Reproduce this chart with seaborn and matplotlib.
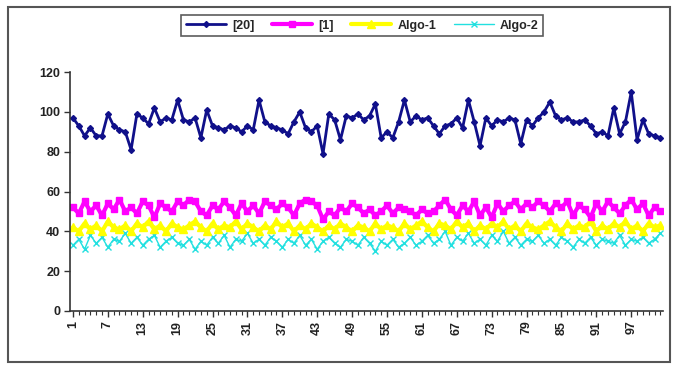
import numpy as np
import pandas as pd
import matplotlib
matplotlib.use("Agg")
import matplotlib.pyplot as plt
import seaborn as sns
from matplotlib.patches import Rectangle

# Series values per run (102 runs)
ref20 = [97, 93, 88, 92, 88, 88, 99, 93, 91, 90,
         81, 99, 97, 94, 102, 95, 97, 96, 106, 96,
         95, 97, 87, 101, 93, 92, 91, 93, 92, 90,
         93, 91, 106, 95, 93, 92, 91, 89, 95, 100,
         92, 90, 93, 79, 99, 96, 86, 98, 97, 99,
         96, 98, 104, 87, 90, 87, 95, 106, 95, 98,
         96, 97, 93, 89, 93, 94, 97, 92, 106, 95,
         83, 97, 93, 96, 95, 97, 96, 84, 96, 93,
         97, 100, 105, 98, 96, 97, 95, 95, 96, 93,
         89, 90, 88, 102, 89, 95, 110, 86, 96, 89,
         88, 87]
ref1 = [52, 49, 55, 50, 53, 48, 54, 51, 56, 50,
        52, 49, 55, 53, 47, 54, 52, 50, 55, 53,
        56, 55, 50, 48, 53, 51, 55, 52, 48, 54,
        50, 53, 49, 55, 53, 51, 54, 52, 48, 54,
        56, 55, 53, 46, 50, 48, 52, 50, 54, 52,
        49, 51, 48, 50, 53, 49, 52, 51, 50, 48,
        51, 49, 50, 53, 56, 51, 48, 53, 50, 55,
        48, 52, 47, 54, 50, 53, 55, 51, 54, 52,
        55, 53, 50, 54, 52, 55, 48, 53, 51, 47,
        54, 50, 55, 52, 49, 53, 56, 51, 54, 48,
        52, 50]
algo1 = [42, 40, 44, 41, 43, 40, 45, 42, 41, 43,
         40, 44, 42, 45, 41, 43, 40, 44, 42, 41,
         43, 45, 42, 40, 44, 41, 43, 42, 45, 41,
         44, 42, 40, 43, 41, 45, 42, 44, 40, 43,
         41, 44, 42, 40, 43, 41, 44, 42, 40, 43,
         42, 40, 44, 41, 43, 42, 40, 44, 41, 43,
         45, 42, 40, 44, 43, 41, 45, 42, 44, 40,
         43, 41, 44, 42, 45, 41, 43, 40, 44, 42,
         41, 43, 45, 42, 40, 44, 41, 43, 42, 45,
         40, 43, 41, 44, 42, 45, 41, 43, 40, 44,
         42, 43]
algo2 = [33, 36, 31, 38, 34, 37, 32, 36, 35, 39,
         34, 37, 33, 36, 38, 32, 35, 37, 34, 33,
         36, 31, 35, 33, 37, 34, 38, 32, 36, 35,
         39, 34, 36, 33, 37, 35, 32, 36, 34, 38,
         33, 36, 31, 35, 37, 34, 32, 36, 35, 33,
         37, 34, 30, 35, 33, 36, 32, 34, 37, 33,
         35, 38, 34, 36, 40, 33, 37, 35, 39, 34,
         36, 33, 38, 35, 40, 34, 37, 33, 36, 35,
         38, 34, 36, 33, 37, 35, 32, 36, 34, 37,
         33, 36, 35, 34, 38, 33, 36, 35, 37, 34,
         36, 39]

series_names = ["[20]", "[1]", "Algo-1", "Algo-2"]
runs = list(range(1, len(ref20) + 1))
xtick_labels = [str(v) for v in range(1, 98, 6)]
ytick_values = [0, 20, 40, 60, 80, 100, 120]

df = pd.DataFrame({
    "run": runs * 4,
    "value": ref20 + ref1 + algo1 + algo2,
    "series": sum([[n] * len(runs) for n in series_names], []),
})

sns.set_theme(style="white")
plt.rcParams["font.family"] = ["Liberation Sans", "DejaVu Sans"]

fig = plt.figure(figsize=(6.76, 3.68), dpi=100)
ax = fig.add_axes([0.1036, 0.155, 0.8775, 0.649])

styles = {
    "[20]":   dict(color="#10108A", marker="D", markersize=3.0, lw=2.0),
    "[1]":    dict(color="#FF00FF", marker="s", markersize=5, lw=3.0),
    "Algo-1": dict(color="#FFFF00", marker="^", markersize=5.5, lw=3.0),
    "Algo-2": dict(color="#22E0E0", marker="x", markersize=4, lw=1.0),
}
# draw back-to-front so the top series overlaps the lower ones
for name in ["Algo-2", "Algo-1", "[1]", "[20]"]:
    st = styles[name]
    sub = df[df["series"] == name]
    sns.lineplot(data=sub, x="run", y="value", ax=ax, color=st["color"],
                 marker=st["marker"], markersize=st["markersize"],
                 linewidth=st["lw"], markeredgecolor=st["color"],
                 markeredgewidth=1.0, label=name, legend=False)

ax.set_xlim(0.5, len(runs) + 0.5)
ax.set_ylim(0, 120)
ax.set_xticks([int(t) for t in xtick_labels])
ax.set_xticklabels(xtick_labels, rotation=90, fontsize=9, fontweight="bold",
                   color="#222222")
ax.set_xticks(runs, minor=True)
ax.set_yticks(ytick_values)
ax.set_yticklabels([str(v) for v in ytick_values], fontsize=9,
                   fontweight="bold", color="#222222")
ax.set_xlabel("")
ax.set_ylabel("")
ax.tick_params(axis="both", which="major", direction="out", length=4,
               width=1, color="#333333", left=True, bottom=True, pad=3)
ax.tick_params(axis="x", which="minor", direction="out", length=3,
               width=0.8, color="#333333", bottom=True)
for s in ["top", "right"]:
    ax.spines[s].set_visible(False)
for s in ["left", "bottom"]:
    ax.spines[s].set_color("#333333")
    ax.spines[s].set_linewidth(1.2)

# legend across the top
handles, labels = ax.get_legend_handles_labels()
order = [labels.index(n) for n in series_names]
leg = fig.legend([handles[i] for i in order], [labels[i] for i in order],
                 loc="center", bbox_to_anchor=(0.536, 0.93), ncol=4,
                 frameon=True, fancybox=False, edgecolor="#333333",
                 handlelength=3.2, columnspacing=1.4,
                 handletextpad=0.5, borderpad=0.35,
                 prop={"weight": "bold", "size": 9})
leg.get_frame().set_linewidth(1.2)

# chart border
fig.patches.append(Rectangle((8 / 676, 1 - 362 / 368), 662 / 676, 355 / 368,
                             transform=fig.transFigure, fill=False,
                             edgecolor="#555555", linewidth=1.5))

fig.savefig("out.png", dpi=100, facecolor="white")
